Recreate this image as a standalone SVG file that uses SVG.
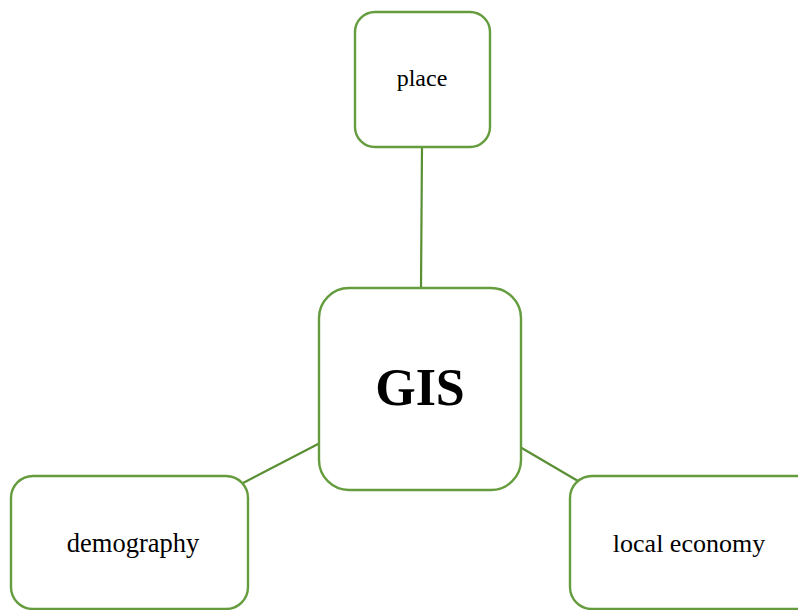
<svg xmlns="http://www.w3.org/2000/svg" width="798" height="610" viewBox="0 0 798 610">
<style>
.box{fill:#fff;stroke:#659c3e;stroke-width:2.4}
.edge{stroke:#5a8f34;stroke-width:2.2;fill:none}
.t{font-family:"Liberation Serif","Times New Roman",serif;fill:#000;text-anchor:middle}
</style>
<rect width="798" height="610" fill="#fff"/>
<g id="connectors">
<line class="edge" x1="422" y1="147" x2="421" y2="288"/>
<line class="edge" x1="320" y1="443" x2="243" y2="483"/>
<line class="edge" x1="520" y1="447" x2="578" y2="481"/>
</g>
<g id="place">
<rect class="box" x="355" y="12" width="135" height="135" rx="20"/>
<text class="t" x="422" y="86" font-size="24">place</text>
</g>
<g id="gis">
<rect class="box" x="319" y="288" width="202" height="202" rx="30"/>
<text class="t" x="420" y="405" font-size="52" font-weight="bold">GIS</text>
</g>
<g id="demography">
<rect class="box" x="11" y="476" width="237" height="133" rx="22"/>
<text class="t" x="133" y="552" font-size="26.5">demography</text>
</g>
<g id="local-economy">
<rect class="box" x="570" y="476" width="260" height="133" rx="22"/>
<text class="t" x="689" y="552" font-size="26">local economy</text>
</g>
</svg>
